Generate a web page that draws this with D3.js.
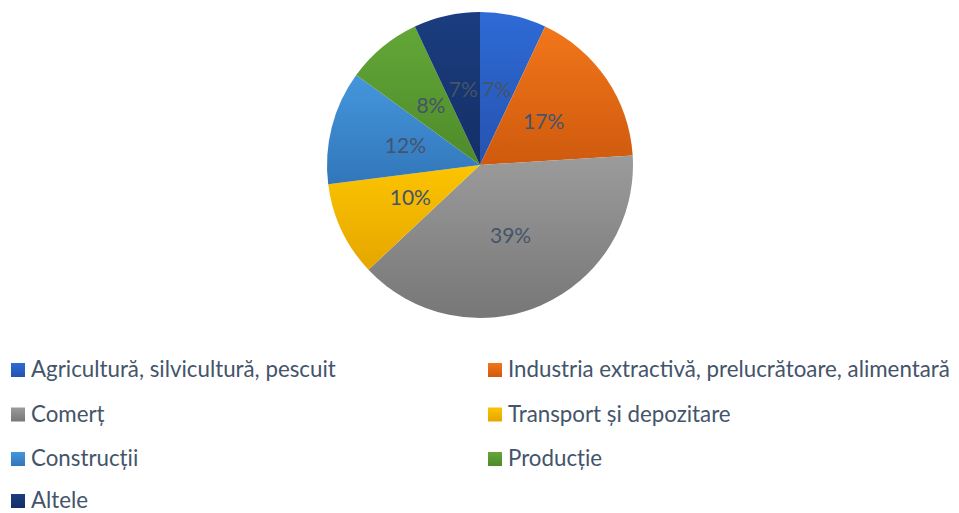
<!DOCTYPE html>
<html>
<head>
<meta charset="utf-8">
<script src="https://cdn.jsdelivr.net/npm/d3@7"></script>
<style>
  html, body { margin: 0; padding: 0; background: #fff; }
  svg { display: block; }
</style>
</head>
<body>
<svg id="chart"></svg>
<script>
const categories = [
  "Agricultură, silvicultură, pescuit",
  "Industria extractivă, prelucrătoare, alimentară",
  "Comerț",
  "Transport și depozitare",
  "Construcții",
  "Producție",
  "Altele"
];
const values = [7, 17, 39, 10, 12, 8, 7];
const colors = ["#2e6bd6", "#f2761a", "#9b9b9b", "#fcc400", "#4596dc", "#63a737", "#1b3d7f"];
const darkColors = ["#2552b0", "#cf5a0e", "#777777", "#e5a600", "#3276ba", "#4e8a2a", "#142f66"];

const width = 959, height = 513;
const cx = 480, cy = 165, radius = 153;
const textColor = "#44546a";
const font = "Lato, 'Open Sans', sans-serif";

const svg = d3.select("#chart").attr("width", width).attr("height", height);

// gradients, lighter at top
const defs = svg.append("defs");
colors.forEach((c, i) => {
  const grad = defs.append("linearGradient")
    .attr("id", "grad" + i)
    .attr("x1", 0).attr("y1", 0).attr("x2", 0).attr("y2", 1);
  grad.append("stop").attr("offset", "0%").attr("stop-color", c);
  grad.append("stop").attr("offset", "100%").attr("stop-color", darkColors[i]);
});

const data = categories.map((name, i) => ({ name, value: values[i], i }));

const pie = d3.pie().value(d => d.value).sort(null);
const arc = d3.arc().innerRadius(0).outerRadius(radius);
const labelArc = d3.arc().innerRadius(77).outerRadius(77);

const g = svg.append("g").attr("transform", `translate(${cx},${cy})`);

const arcs = pie(data);

g.selectAll(".slice")
  .data(arcs)
  .enter()
  .append("path")
  .attr("class", "slice")
  .attr("d", arc)
  .attr("fill", d => `url(#grad${d.data.i})`)
  .attr("stroke", "none");

g.selectAll(".label")
  .data(arcs)
  .enter()
  .append("text")
  .attr("class", "label")
  .attr("transform", d => `translate(${labelArc.centroid(d)})`)
  .attr("text-anchor", "middle")
  .attr("dy", "0.35em")
  .style("font-family", font)
  .style("font-size", "21px")
  .style("fill", textColor)
  .text(d => d.data.value + "%");

// legend
const legendCols = [11, 488];
const legendRows = [370, 414.5, 459, 501];

const legendItems = svg.selectAll(".legend-item")
  .data(data)
  .enter()
  .append("g")
  .attr("class", "legend-item")
  .attr("transform", (d, i) => `translate(${legendCols[i % 2]}, ${legendRows[Math.floor(i / 2)]})`);

legendItems.append("rect")
  .attr("x", 0)
  .attr("y", -7)
  .attr("width", 14)
  .attr("height", 14)
  .attr("fill", d => `url(#grad${d.i})`);

legendItems.append("text")
  .attr("x", 20)
  .attr("y", 7)
  .style("font-family", font)
  .style("font-size", "22.3px")
  .style("fill", textColor)
  .text(d => d.name);
</script>
</body>
</html>
